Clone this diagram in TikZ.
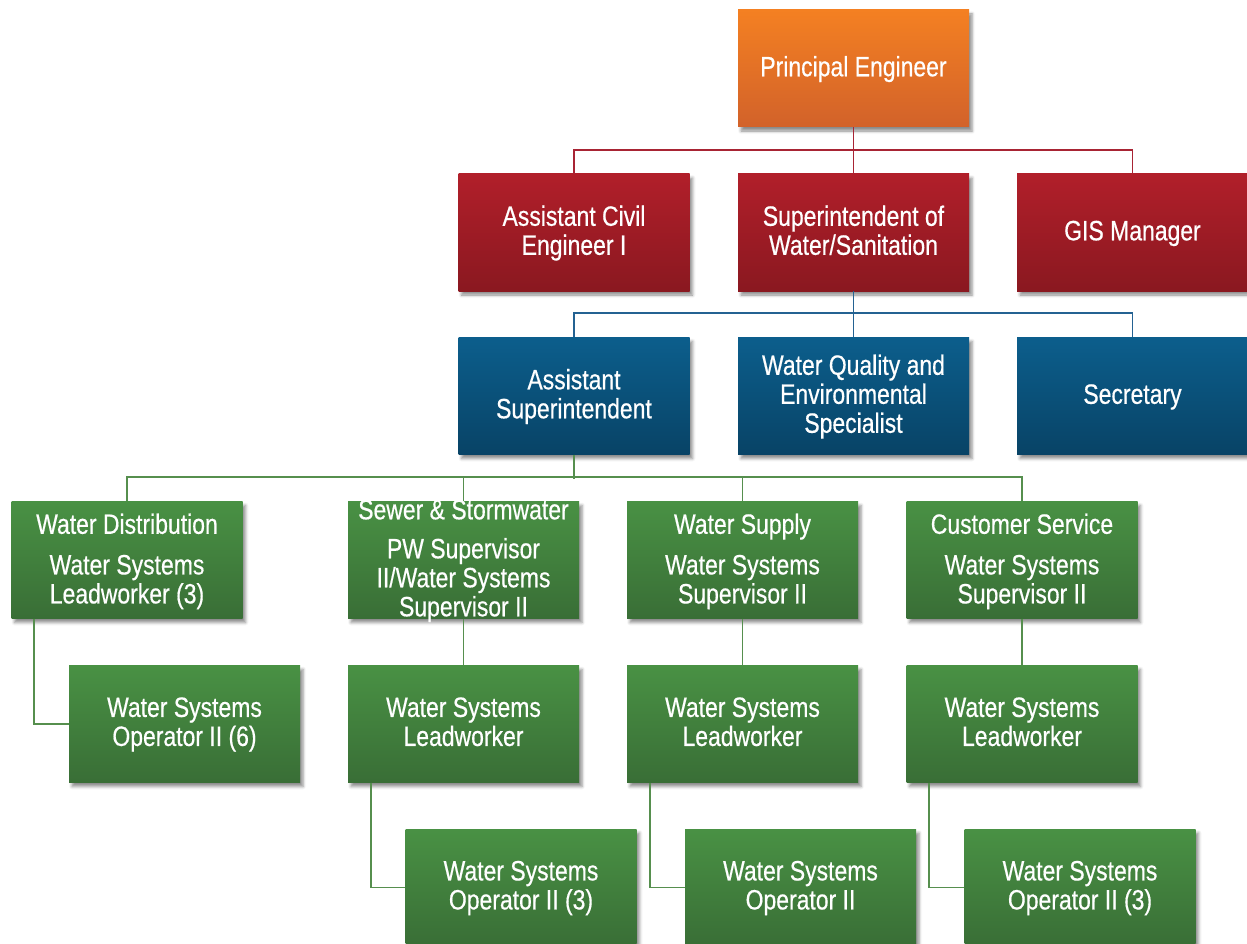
\documentclass[tikz,border=0pt]{standalone}
\usepackage{fontspec}
\setmainfont{Liberation Sans}[FakeStretch=0.82, FakeBold=0.5]
\usetikzlibrary{shadows.blur}

\definecolor{orgT}{RGB}{244,128,34}
\definecolor{orgB}{RGB}{210,98,42}
\definecolor{redT}{RGB}{177,31,42}
\definecolor{redB}{RGB}{138,24,32}
\definecolor{bluT}{RGB}{12,94,140}
\definecolor{bluB}{RGB}{8,67,102}
\definecolor{grnT}{RGB}{73,145,68}
\definecolor{grnB}{RGB}{57,110,54}
\definecolor{redL}{RGB}{168,36,52}
\definecolor{bluL}{RGB}{36,98,146}
\definecolor{grnL}{RGB}{86,143,78}

\tikzset{
  boxtext/.style={text=white, align=center, inner sep=0pt,
    font=\fontsize{28}{29}\selectfont,
    execute at begin node=\strut, execute at end node=\strut},
  box/.style={rectangle, minimum width=231pt, minimum height=117pt, inner sep=0pt,
    blur shadow={shadow xshift=3pt, shadow yshift=-4pt, shadow blur radius=3pt, shadow opacity=45}},
  % box caption, set a little below the middle of the box
  caption/.style={label={[boxtext, yshift=-2pt]center:#1}},
  orangebox/.style={box, top color=orgT, bottom color=orgB},
  redbox/.style={box, top color=redT, bottom color=redB},
  bluebox/.style={box, top color=bluT, bottom color=bluB},
  greenbox/.style={box, top color=grnT, bottom color=grnB},
  redline/.style={draw=redL, line width=1.8pt},
  blueline/.style={draw=bluL, line width=1.8pt},
  greenline/.style={draw=grnL, line width=1.8pt},
}

\begin{document}
\begin{tikzpicture}[x=1pt, y=1pt]
\useasboundingbox (0,0) rectangle (1247,-944);

% top level
\node[orangebox, caption={Principal Engineer}] (pe) at (853.5,-68.5) {};

% second level
\node[redbox, caption={Assistant Civil\\Engineer I}] (ace) at (574,-232.5) {};
\node[redbox, caption={Superintendent of\\Water/Sanitation}] (sws) at (853.5,-232.5) {};
\node[redbox, caption={GIS Manager}] (gis) at (1132.5,-232.5) {};

% third level
\node[bluebox, caption={Assistant\\Superintendent}] (asup) at (574,-396) {};
\node[bluebox, caption={Water Quality and\\Environmental\\Specialist}] (wqes) at (853.5,-396) {};
\node[bluebox, caption={Secretary}] (sec) at (1132.5,-396) {};

% division heads
\node[greenbox] (wd) at (127,-560) {};
\node[greenbox] (ss) at (463.5,-560) {};
\node[greenbox] (wsup) at (742.5,-560) {};
\node[greenbox] (cs) at (1022,-560) {};

\node[boxtext] (wdT) at (127,-528) {Water Distribution};
\node[boxtext] (wdB) at (127,-583.5) {Water Systems\\Leadworker (3)};
\node[boxtext] (ssT) at (463.5,-513.5) {Sewer \& Stormwater};
\node[boxtext] (ssB) at (463.5,-581.5) {PW Supervisor\\II/Water Systems\\Supervisor II};
\node[boxtext] (wsT) at (742.5,-528) {Water Supply};
\node[boxtext] (wsB) at (742.5,-583.5) {Water Systems\\Supervisor II};
\node[boxtext] (csT) at (1022,-528) {Customer Service};
\node[boxtext] (csB) at (1022,-583.5) {Water Systems\\Supervisor II};

% fifth level
\node[greenbox, caption={Water Systems\\Operator II (6)}] (op6) at (184.5,-724) {};
\node[greenbox, caption={Water Systems\\Leadworker}] (lw1) at (463.5,-724) {};
\node[greenbox, caption={Water Systems\\Leadworker}] (lw2) at (742.5,-724) {};
\node[greenbox, caption={Water Systems\\Leadworker}] (lw3) at (1022,-724) {};

% sixth level
\node[greenbox, caption={Water Systems\\Operator II (3)}] (op3a) at (521,-887.5) {};
\node[greenbox, caption={Water Systems\\Operator II}] (op2) at (800.5,-887.5) {};
\node[greenbox, caption={Water Systems\\Operator II (3)}] (op3b) at (1080,-887.5) {};

% connectors
\draw[redline] (pe.south) -- (sws.north);
\draw[redline] (ace.north) -- ++(0,24) -| (gis.north);

\draw[blueline] (sws.south) -- (wqes.north);
\draw[blueline] (asup.north) -- ++(0,24) -| (sec.north);

\draw[greenline] (asup.south) -- ++(0,-24);
\draw[greenline] (wd.north) -- ++(0,24) -| (cs.north);
\draw[greenline] (ss.north) -- ++(0,24);
\draw[greenline] (wsup.north) -- ++(0,24);

\draw[greenline] ([xshift=23pt]wd.south west) |- (op6.west);
\draw[greenline] (ss.south) -- (lw1.north);
\draw[greenline] (wsup.south) -- (lw2.north);
\draw[greenline] (cs.south) -- (lw3.north);

\draw[greenline] ([xshift=23pt]lw1.south west) |- (op3a.west);
\draw[greenline] ([xshift=23pt]lw2.south west) |- (op2.west);
\draw[greenline] ([xshift=23pt]lw3.south west) |- (op3b.west);
\end{tikzpicture}
\end{document}
